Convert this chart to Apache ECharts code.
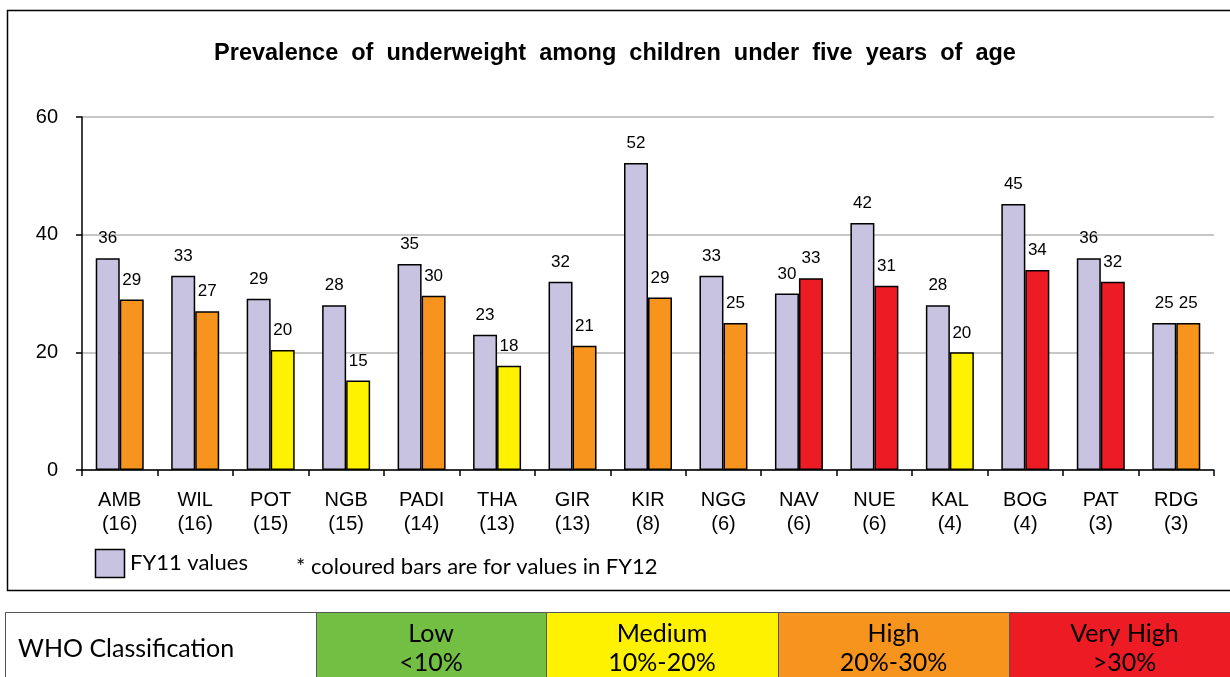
<!DOCTYPE html>
<html lang="en">
<head>
<meta charset="UTF-8"/>
<style>
  html, body { margin: 0; padding: 0; background: #fff; }
  #main { width: 1230px; height: 677px; }
</style>
</head>
<body>
<div id="main"></div>
<script src="https://cdn.jsdelivr.net/npm/echarts@6/dist/echarts.min.js"></script>
<script type="text/javascript">
    // districts and number of sites
    var regions = ['AMB', 'WIL', 'POT', 'NGB', 'PADI', 'THA', 'GIR', 'KIR', 'NGG', 'NAV', 'NUE', 'KAL', 'BOG', 'PAT', 'RDG'];
    var counts = [16, 16, 15, 15, 14, 13, 13, 8, 6, 6, 6, 4, 4, 3, 3];
    // prevalence (%)
    var fy11 = [36, 33, 29.1, 28, 35, 23, 32, 52.2, 33, 30, 42, 28, 45.2, 36, 25];
    var fy12 = [29, 27, 20.4, 15.2, 29.6, 17.7, 21.1, 29.3, 25, 32.6, 31.3, 20, 34, 32, 25];
    var yTicks = [0, 20, 40, 60];

    // WHO classification bands
    var whoNames = ['Low', 'Medium', 'High', 'Very High'];
    var whoRanges = ['<10%', '10%-20%', '20%-30%', '>30%'];
    var whoColors = ['#72BF44', '#FFF200', '#F7941D', '#ED1C24'];

    var lavender = '#C7C3E0';
    var arial = "'Liberation Sans', Arial, sans-serif";
    var gill = "Lato, 'Open Sans', sans-serif";

    function whoColor(v) {
        var r = Math.round(v);
        if (r < 10) return whoColors[0];
        if (r <= 20) return whoColors[1];
        if (r <= 30) return whoColors[2];
        return whoColors[3];
    }

    var myChart = echarts.init(document.getElementById('main'));

    var labelStyle = {
        show: true,
        position: 'top',
        distance: 11,
        fontFamily: arial,
        fontSize: 17,
        color: '#000',
        formatter: function (p) { return Math.round(p.value); }
    };

    // table cells below the chart
    var tableX = [5, 316, 546, 778, 1009, 1240];
    var tableTop = 612, tableH = 90;
    var graphics = [
        // outer frame of the chart
        { type: 'rect', shape: { x: 7.5, y: 10.5, width: 1230, height: 580 },
          style: { fill: null, stroke: '#000', lineWidth: 1.5 }, z: 10 },
        { type: 'rect', shape: { x: tableX[0] + 0.5, y: tableTop + 0.5, width: tableX[1] - tableX[0], height: tableH },
          style: { fill: '#fff', stroke: '#555', lineWidth: 1 } },
        { type: 'text', x: 18, y: 649,
          style: { text: 'WHO Classification', fontFamily: gill, fontSize: 25, fill: '#000', verticalAlign: 'middle' } },
        // legend
        { type: 'rect', shape: { x: 95.5, y: 549.5, width: 29, height: 28 },
          style: { fill: lavender, stroke: '#000', lineWidth: 1.5 } },
        { type: 'text', x: 130, y: 563,
          style: { text: 'FY11 values', fontFamily: gill, fontSize: 22, fill: '#000', verticalAlign: 'middle' } },
        { type: 'text', x: 296, y: 567,
          style: { text: '* coloured bars are for values in FY12', fontFamily: gill, fontSize: 22, fill: '#000', verticalAlign: 'middle' } }
    ];
    for (var i = 0; i < whoNames.length; i++) {
        var x0 = tableX[i + 1], w = tableX[i + 2] - x0;
        graphics.push({ type: 'rect', shape: { x: x0 + 0.5, y: tableTop + 0.5, width: w, height: tableH },
            style: { fill: whoColors[i], stroke: '#555', lineWidth: 1 } });
        graphics.push({ type: 'text', x: x0 + w / 2, y: 634,
            style: { text: whoNames[i], fontFamily: gill, fontSize: 25, fill: '#000', align: 'center', verticalAlign: 'middle' } });
        graphics.push({ type: 'text', x: x0 + w / 2, y: 663,
            style: { text: whoRanges[i], fontFamily: gill, fontSize: 25, fill: '#000', align: 'center', verticalAlign: 'middle' } });
    }

    var options = {
        animation: false,
        backgroundColor: '#fff',
        title: {
            text: 'Prevalence  of  underweight  among  children  under  five  years  of  age',
            left: 'center',
            top: 37,
            textStyle: { fontFamily: arial, fontSize: 23.5, fontWeight: 'bold', color: '#000' }
        },
        grid: { left: 82, right: 16, top: 117, bottom: 207 },
        xAxis: {
            type: 'category',
            data: regions,
            axisLine: { lineStyle: { color: '#000', width: 1.5 } },
            axisTick: { show: true, inside: false, length: 6, lineStyle: { color: '#000', width: 1.5 } },
            axisLabel: {
                margin: 18,
                lineHeight: 24,
                fontFamily: arial,
                fontSize: 20,
                color: '#000',
                interval: 0,
                formatter: function (v, idx) { return v + '\n(' + counts[idx] + ')'; }
            }
        },
        yAxis: {
            type: 'value',
            min: yTicks[0],
            max: yTicks[yTicks.length - 1],
            interval: 20,
            axisLine: { show: true, lineStyle: { color: '#000', width: 1.5 } },
            axisTick: { show: true, length: 6, lineStyle: { color: '#000', width: 1.5 } },
            axisLabel: { margin: 24, fontFamily: arial, fontSize: 20, color: '#000' },
            splitLine: { show: true, lineStyle: { color: '#b4b4b4', width: 1.5 } }
        },
        graphic: graphics,
        series: [
            {
                name: 'FY11 values',
                type: 'bar',
                data: fy11,
                barWidth: 24,
                barGap: '0%',
                itemStyle: { color: lavender, borderColor: '#000', borderWidth: 1.5 },
                label: labelStyle
            },
            {
                name: 'FY12 values',
                type: 'bar',
                data: fy12.map(function (v) {
                    return { value: v, itemStyle: { color: whoColor(v) } };
                }),
                barWidth: 24,
                itemStyle: { borderColor: '#000', borderWidth: 1.5 },
                label: labelStyle
            }
        ]
    };

    myChart.setOption(options);
</script>
</body>
</html>
